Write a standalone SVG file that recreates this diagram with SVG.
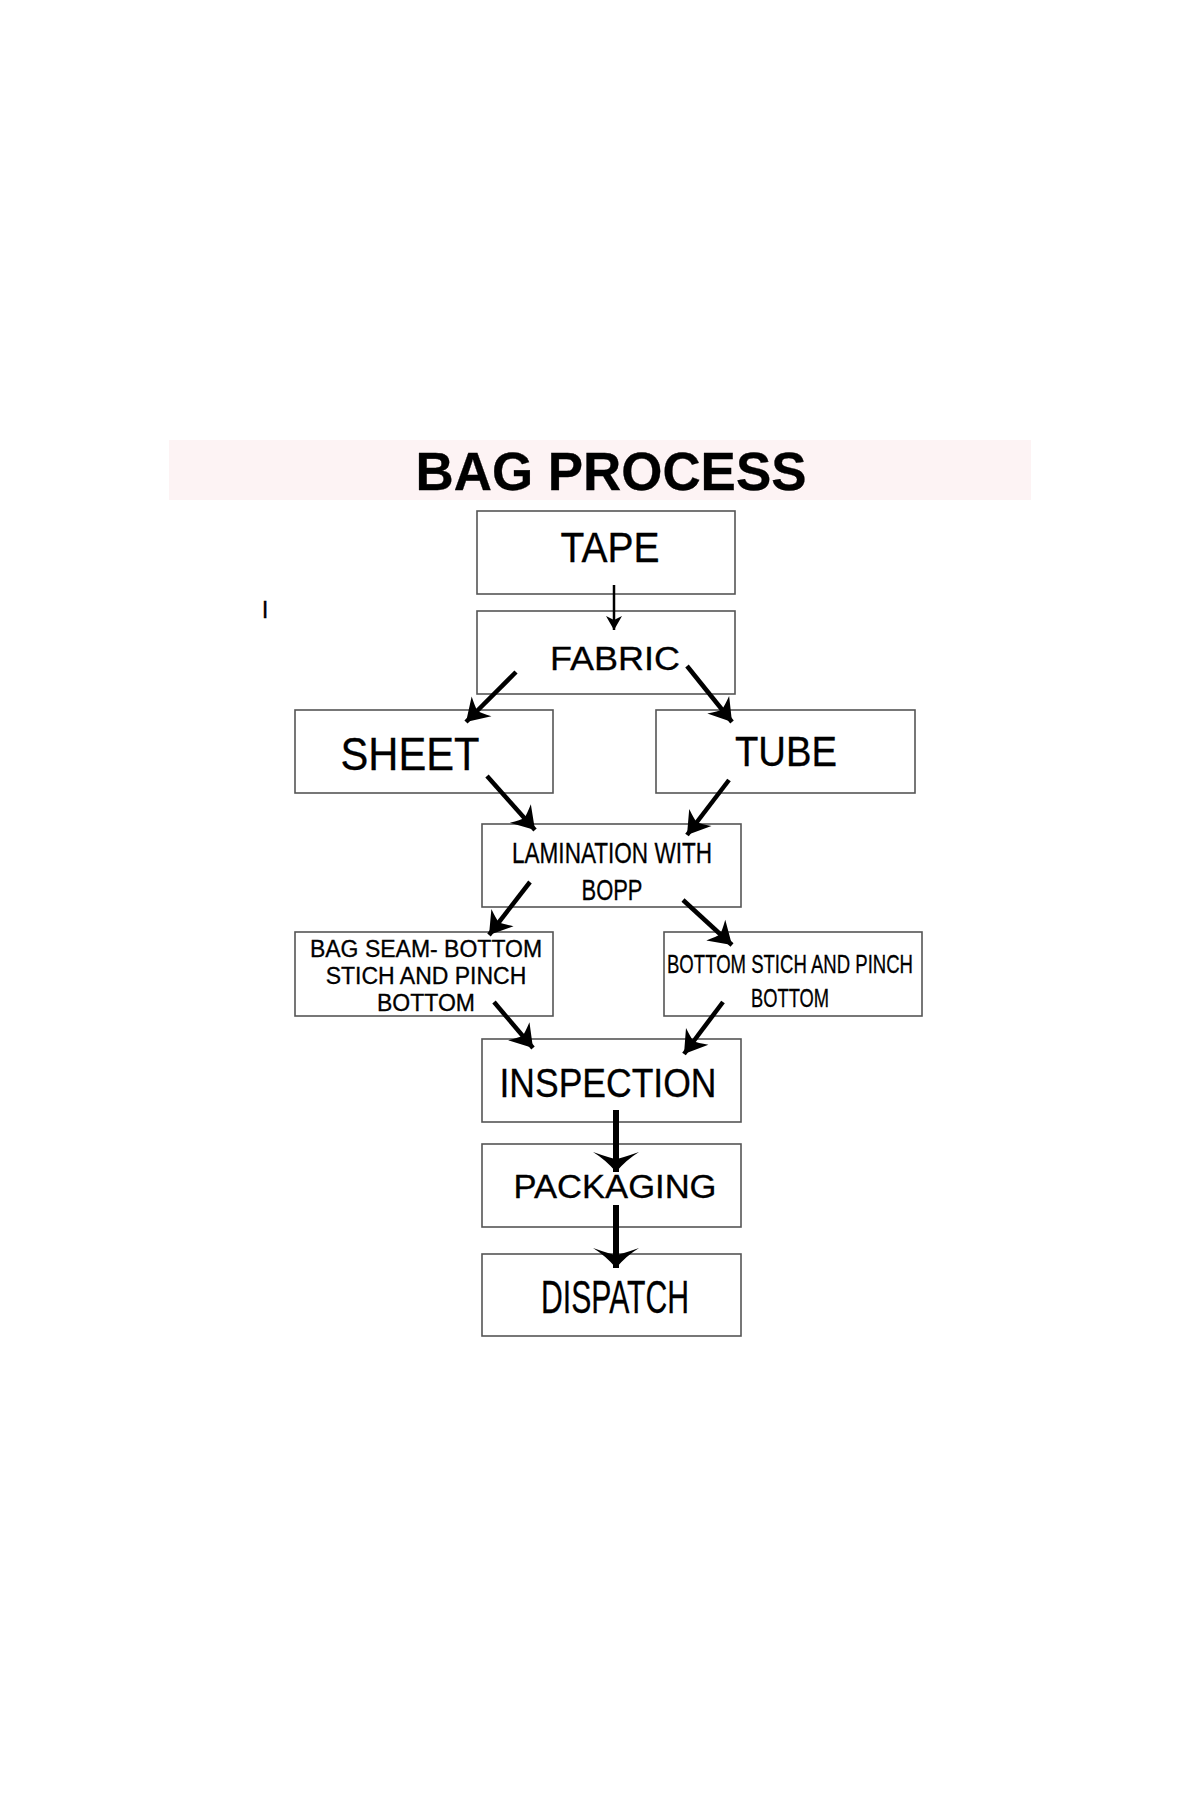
<svg xmlns="http://www.w3.org/2000/svg" width="1200" height="1800" viewBox="0 0 1200 1800">
<style>
.box{fill:#ffffff;stroke:#555555;stroke-width:1.6}
.t{font-family:"Liberation Sans",Arial,sans-serif;fill:#000000;text-anchor:middle;stroke:#000000;stroke-width:0.3}
.a{stroke:#000000;stroke-width:4.5;fill:none}
.a2{stroke:#000000;stroke-width:6;fill:none}
.a1{stroke:#000000;stroke-width:2.5;fill:none}
</style>
<defs>
<marker id="ah" markerUnits="userSpaceOnUse" viewBox="-2 -16 26 32" refX="22" refY="0" markerWidth="26" markerHeight="32" orient="auto">
<path d="M22,0 L0,-14 Q5,-4 6,0 Q5,4 0,14 Z" fill="#000"/>
</marker>
<marker id="ahBig" markerUnits="userSpaceOnUse" viewBox="-2 -25 24 50" refX="20" refY="0" markerWidth="24" markerHeight="50" orient="auto">
<path d="M20,0 Q8,-10 0,-23 Q6,-6 7,0 Q6,6 0,23 Q8,10 20,0 Z" fill="#000"/>
</marker>
<marker id="ahSm" markerUnits="userSpaceOnUse" viewBox="-2 -10 18 20" refX="14" refY="0" markerWidth="18" markerHeight="20" orient="auto">
<path d="M14,0 L0,-8 L4,0 L0,8 Z" fill="#000"/>
</marker>
</defs>
<rect width="1200" height="1800" fill="#ffffff"/>
<g id="title">
<rect x="169" y="440" width="862" height="60" fill="#fdf3f4"/>
<text class="t" x="611" y="490" font-size="53" font-weight="bold" stroke-width="0" textLength="391" lengthAdjust="spacingAndGlyphs">BAG PROCESS</text>
</g>
<g id="stray">
<text class="t" x="265" y="618" font-size="24">I</text>
</g>
<g id="tape">
<rect class="box" x="477" y="511" width="258" height="83"/>
<text class="t" x="610" y="562" font-size="42" textLength="99" lengthAdjust="spacingAndGlyphs">TAPE</text>
</g>
<g id="fabric">
<rect class="box" x="477" y="611" width="258" height="83"/>
<text class="t" x="615" y="670" font-size="34" textLength="130" lengthAdjust="spacingAndGlyphs">FABRIC</text>
</g>
<g id="sheet">
<rect class="box" x="295" y="710" width="258" height="83"/>
<text class="t" x="410" y="770" font-size="46" textLength="139" lengthAdjust="spacingAndGlyphs">SHEET</text>
</g>
<g id="tube">
<rect class="box" x="656" y="710" width="259" height="83"/>
<text class="t" x="786" y="766" font-size="43" textLength="102" lengthAdjust="spacingAndGlyphs">TUBE</text>
</g>
<g id="lamination">
<rect class="box" x="482" y="824" width="259" height="83"/>
<text class="t" x="612" y="863" font-size="29" textLength="200" lengthAdjust="spacingAndGlyphs">LAMINATION WITH</text>
<text class="t" x="612" y="900" font-size="29" textLength="61" lengthAdjust="spacingAndGlyphs">BOPP</text>
</g>
<g id="bagseam">
<rect class="box" x="295" y="932" width="258" height="84"/>
<text class="t" x="426" y="957" font-size="23">BAG SEAM- BOTTOM</text>
<text class="t" x="426" y="984" font-size="23">STICH AND PINCH</text>
<text class="t" x="426" y="1011" font-size="23">BOTTOM</text>
</g>
<g id="bottomstich">
<rect class="box" x="664" y="932" width="258" height="84"/>
<text class="t" x="790" y="973" font-size="25" textLength="246" lengthAdjust="spacingAndGlyphs">BOTTOM STICH AND PINCH</text>
<text class="t" x="790" y="1007" font-size="25" textLength="78" lengthAdjust="spacingAndGlyphs">BOTTOM</text>
</g>
<g id="inspection">
<rect class="box" x="482" y="1039" width="259" height="83"/>
<text class="t" x="608" y="1097" font-size="40" textLength="217" lengthAdjust="spacingAndGlyphs">INSPECTION</text>
</g>
<g id="packaging">
<rect class="box" x="482" y="1144" width="259" height="83"/>
<text class="t" x="615" y="1198" font-size="33" textLength="203" lengthAdjust="spacingAndGlyphs">PACKAGING</text>
</g>
<g id="dispatch">
<rect class="box" x="482" y="1254" width="259" height="82"/>
<text class="t" x="615" y="1313" font-size="47" textLength="148" lengthAdjust="spacingAndGlyphs">DISPATCH</text>
</g>
<g id="connectors">
<line class="a1" x1="614" y1="585" x2="614" y2="630" marker-end="url(#ahSm)"/>
<line class="a" x1="516" y1="672" x2="466" y2="722" marker-end="url(#ah)"/>
<line class="a" x1="687" y1="666" x2="732" y2="722" marker-end="url(#ah)"/>
<line class="a" x1="487" y1="776" x2="535" y2="830" marker-end="url(#ah)"/>
<line class="a" x1="729" y1="780" x2="687" y2="835" marker-end="url(#ah)"/>
<line class="a" x1="530" y1="882" x2="489" y2="935" marker-end="url(#ah)"/>
<line class="a" x1="683" y1="900" x2="732" y2="945" marker-end="url(#ah)"/>
<line class="a" x1="494" y1="1002" x2="533" y2="1048" marker-end="url(#ah)"/>
<line class="a" x1="723" y1="1002" x2="684" y2="1054" marker-end="url(#ah)"/>
<line class="a2" x1="616" y1="1110" x2="616" y2="1172" marker-end="url(#ahBig)"/>
<line class="a2" x1="616" y1="1205" x2="616" y2="1268" marker-end="url(#ahBig)"/>
</g>
</svg>
